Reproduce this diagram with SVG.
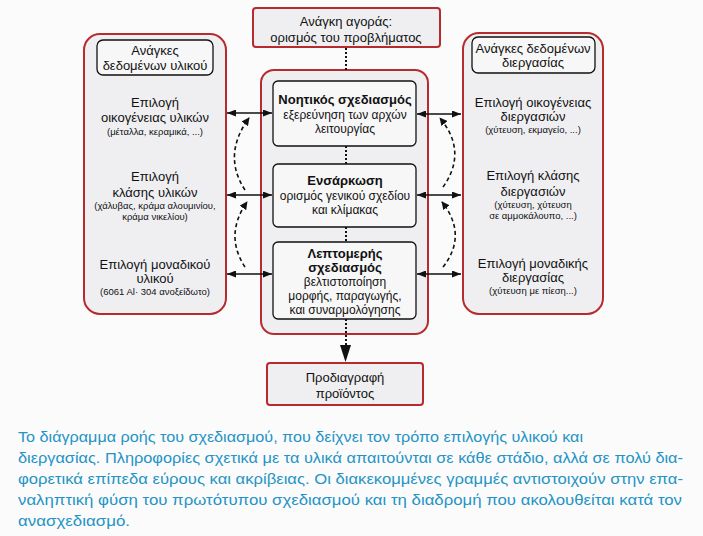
<svg xmlns="http://www.w3.org/2000/svg" width="703" height="536" viewBox="0 0 703 536">
<defs>
<marker id="ah" viewBox="0 0 10 10" refX="10" refY="5" markerWidth="9" markerHeight="7" markerUnits="userSpaceOnUse" orient="auto-start-reverse" preserveAspectRatio="none"><path d="M0,0 L10,5 L0,10 Z" fill="#111"/></marker>
<marker id="ahs" viewBox="0 0 10 10" refX="9" refY="5" markerWidth="8" markerHeight="8" markerUnits="userSpaceOnUse" orient="auto"><path d="M0,0 L10,5 L0,10 Z" fill="#111"/></marker>
</defs>
<style>
text{font-family:"Liberation Sans",Arial,sans-serif;fill:#111;text-anchor:middle}
.t{font-size:13px}
.c{font-size:12px}
.s{font-size:9.5px}
.b{font-size:13px;font-weight:bold}
.cap{font-size:15px;fill:#2494c6;text-anchor:start}
.outer{fill:#efeff1;stroke:#b72a2e;stroke-width:2}
.inner{fill:#f7f7f8;stroke:#111;stroke-width:1.3}
.dot{stroke:#111;stroke-width:2;stroke-dasharray:2,2;fill:none}
.harr{stroke:#111;stroke-width:1.4;fill:none}
.dash{stroke:#111;stroke-width:1.6;stroke-dasharray:4,3;fill:none}
</style>
<rect width="703" height="536" fill="#fbfbfb"/>

<g id="market">
<rect class="outer" x="253" y="8" width="187" height="39" rx="3"/>
<text class="t" x="346" y="26">Ανάγκη αγοράς:</text>
<text class="t" x="346" y="42">ορισμός του προβλήματος</text>
</g>

<g id="materials">
<rect class="outer" x="84" y="34" width="142" height="280" rx="16"/>
<rect class="inner" x="97" y="40" width="116" height="35" rx="6"/>
<text class="t" x="155" y="55">Ανάγκες</text>
<text class="t" x="155" y="70">δεδομένων υλικού</text>
<text class="t" x="155" y="107">Επιλογή</text>
<text class="t" x="155" y="122">οικογένειας υλικών</text>
<text class="s" x="155" y="135">(μέταλλα, κεραμικά, ...)</text>
<text class="t" x="155" y="181">Επιλογή</text>
<text class="t" x="155" y="197">κλάσης υλικών</text>
<text class="s" x="155" y="209">(χάλυβας, κράμα αλουμινίου,</text>
<text class="s" x="155" y="220">κράμα νικελίου)</text>
<text class="t" x="155" y="269">Επιλογή μοναδικού</text>
<text class="t" x="155" y="283">υλικού</text>
<text class="s" x="155" y="295">(6061 Al· 304 ανοξείδωτο)</text>
</g>

<g id="design">
<rect class="outer" x="261" y="70" width="167" height="264" rx="13"/>
</g>

<g id="conceptual">
<rect class="inner" x="273" y="81" width="143" height="65" rx="5"/>
<text class="b" x="345" y="104">Νοητικός σχεδιασμός</text>
<text class="c" x="345" y="119">εξερεύνηση των αρχών</text>
<text class="c" x="345" y="133">λειτουργίας</text>
</g>

<g id="embodiment">
<rect class="inner" x="273" y="164" width="143" height="63" rx="5"/>
<text class="b" x="345" y="185">Ενσάρκωση</text>
<text class="c" x="345" y="200">ορισμός γενικού σχεδίου</text>
<text class="c" x="345" y="214">και κλίμακας</text>
</g>

<g id="detail">
<rect class="inner" x="273" y="242" width="143" height="77" rx="5"/>
<text class="b" x="345" y="258">Λεπτομερής</text>
<text class="b" x="345" y="272">σχεδιασμός</text>
<text class="c" x="345" y="286">βελτιστοποίηση</text>
<text class="c" x="345" y="300">μορφής, παραγωγής,</text>
<text class="c" x="345" y="314">και συναρμολόγησης</text>
</g>

<g id="processes">
<rect class="outer" x="463" y="33" width="140" height="281" rx="16"/>
<rect class="inner" x="472" y="37" width="123" height="36" rx="6"/>
<text class="t" x="533" y="53">Ανάγκες δεδομένων</text>
<text class="t" x="533" y="67">διεργασίας</text>
<text class="t" x="533" y="107">Επιλογή οικογένειας</text>
<text class="t" x="533" y="121">διεργασιών</text>
<text class="s" x="533" y="133">(χύτευση, εκμαγείο, ...)</text>
<text class="t" x="533" y="180">Επιλογή κλάσης</text>
<text class="t" x="533" y="196">διεργασιών</text>
<text class="s" x="533" y="208">(χύτευση, χύτευση</text>
<text class="s" x="533" y="219">σε αμμοκάλουπο, ...)</text>
<text class="t" x="533" y="268">Επιλογή μοναδικής</text>
<text class="t" x="533" y="282">διεργασίας</text>
<text class="s" x="533" y="294">(χύτευση με πίεση...)</text>
</g>

<g id="spec">
<rect class="outer" x="267" y="363" width="156" height="42" rx="3"/>
<text class="t" x="345" y="382">Προδιαγραφή</text>
<text class="t" x="345" y="398">προϊόντος</text>
</g>

<g id="connectors">
<line class="dot" x1="346" y1="48" x2="346" y2="70"/>
<line class="dot" x1="346" y1="146" x2="346" y2="164"/>
<line class="dot" x1="346" y1="227" x2="346" y2="242"/>
<line class="dot" x1="346" y1="319" x2="346" y2="347"/>
<path d="M340,345 L351,345 L345.5,362 Z" fill="#111"/>

<line class="harr" x1="227" y1="113" x2="272" y2="113" marker-start="url(#ah)" marker-end="url(#ah)"/>
<line class="harr" x1="227" y1="195" x2="272" y2="195" marker-start="url(#ah)" marker-end="url(#ah)"/>
<line class="harr" x1="227" y1="274" x2="272" y2="274" marker-start="url(#ah)" marker-end="url(#ah)"/>
<line class="harr" x1="417" y1="114" x2="461" y2="114" marker-start="url(#ah)" marker-end="url(#ah)"/>
<line class="harr" x1="417" y1="195" x2="461" y2="195" marker-start="url(#ah)" marker-end="url(#ah)"/>
<line class="harr" x1="417" y1="274" x2="461" y2="274" marker-start="url(#ah)" marker-end="url(#ah)"/>

<path class="dash" d="M245,190 Q222,155 249,118" marker-end="url(#ahs)"/>
<path class="dash" d="M245,267 Q224,235 247,202" marker-end="url(#ahs)"/>
<path class="dash" d="M443,187 Q468,152 440,118" marker-end="url(#ahs)"/>
<path class="dash" d="M443,267 Q468,235 442,202" marker-end="url(#ahs)"/>
</g>

<g id="caption">
<text class="cap" x="18" y="442" textLength="565" lengthAdjust="spacingAndGlyphs">Το διάγραμμα ροής του σχεδιασμού, που δείχνει τον τρόπο επιλογής υλικού και</text>
<text class="cap" x="18" y="463" textLength="665" lengthAdjust="spacingAndGlyphs">διεργασίας. Πληροφορίες σχετικά με τα υλικά απαιτούνται σε κάθε στάδιο, αλλά σε πολύ δια-</text>
<text class="cap" x="18" y="484" textLength="665" lengthAdjust="spacingAndGlyphs">φορετικά επίπεδα εύρους και ακρίβειας. Οι διακεκομμένες γραμμές αντιστοιχούν στην επα-</text>
<text class="cap" x="18" y="505" textLength="664" lengthAdjust="spacingAndGlyphs">ναληπτική φύση του πρωτότυπου σχεδιασμού και τη διαδρομή που ακολουθείται κατά τον</text>
<text class="cap" x="18" y="526" textLength="112" lengthAdjust="spacingAndGlyphs">ανασχεδιασμό.</text>
</g>
</svg>
